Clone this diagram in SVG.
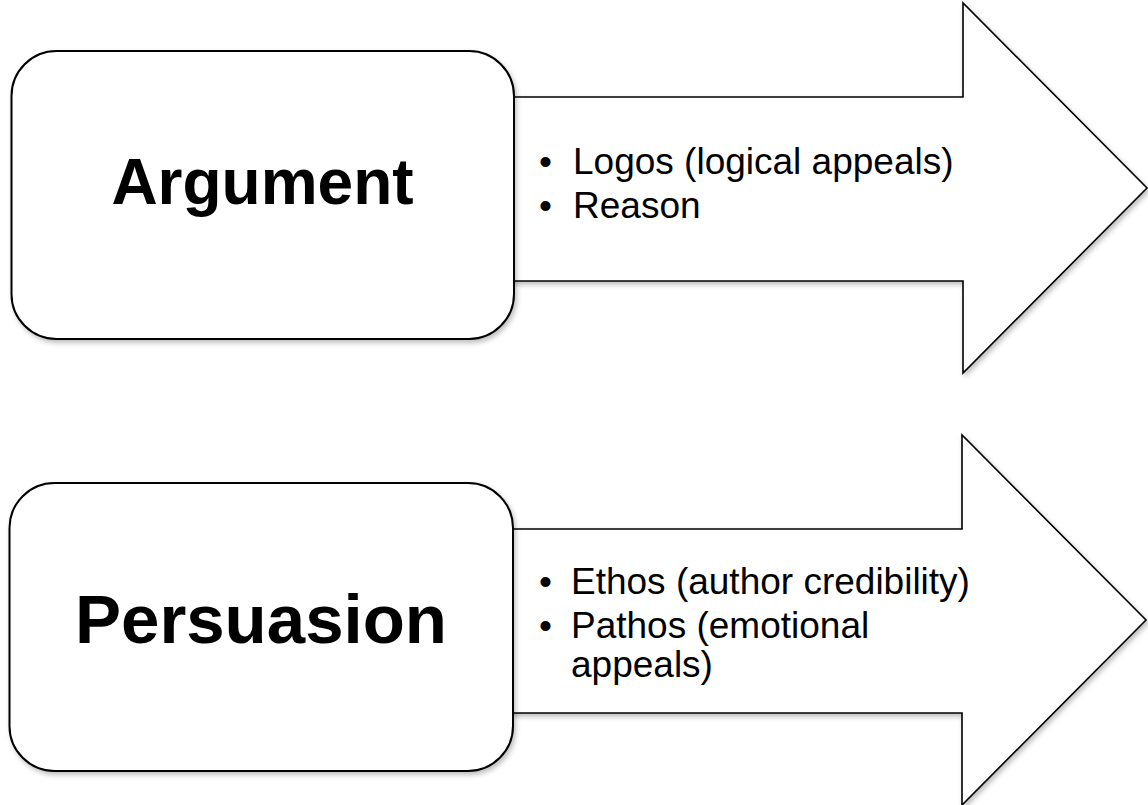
<svg xmlns="http://www.w3.org/2000/svg" width="1148" height="805" viewBox="0 0 1148 805">
<style>
  .shape { fill: #ffffff; stroke: #000000; stroke-width: 1.6; filter: url(#shadow); }
  .box { fill: #ffffff; stroke: #000000; stroke-width: 2; filter: url(#shadow); }
  .title { font-family: "Liberation Sans", Arial, sans-serif; font-weight: bold; fill: #000000; text-anchor: middle; }
  .bullet { font-family: "Liberation Sans", Arial, sans-serif; font-size: 37px; fill: #000000; }
</style>
<defs>
  <filter id="shadow" x="-10%" y="-10%" width="130%" height="130%">
    <feDropShadow dx="2" dy="3" stdDeviation="2.5" flood-color="#000000" flood-opacity="0.25"/>
  </filter>
</defs>
<rect width="1148" height="805" fill="#ffffff"/>
<g id="connectors"></g>
<g id="arrow1">
  <path class="shape" d="M 480,97 L 963,97 L 963,3 L 1147,188 L 963,373 L 963,281 L 480,281 Z"/>
  <text class="bullet" x="539" y="174">•</text>
  <text class="bullet" x="573" y="174">Logos (logical appeals)</text>
  <text class="bullet" x="539" y="218">•</text>
  <text class="bullet" x="573" y="218">Reason</text>
</g>
<g id="box1">
  <rect class="box" x="11.5" y="51" width="502.5" height="288" rx="45" ry="45"/>
  <text class="title" x="262.5" y="204" font-size="64">Argument</text>
</g>
<g id="arrow2">
  <path class="shape" d="M 480,529 L 962,529 L 962,435 L 1146,620 L 962,805 L 962,713 L 480,713 Z"/>
  <text class="bullet" x="539" y="594">•</text>
  <text class="bullet" x="571" y="594">Ethos (author credibility)</text>
  <text class="bullet" x="539" y="638">•</text>
  <text class="bullet" x="571" y="638">Pathos (emotional</text>
  <text class="bullet" x="571" y="677">appeals)</text>
</g>
<g id="box2">
  <rect class="box" x="9.5" y="483" width="503.5" height="288" rx="45" ry="45"/>
  <text class="title" x="261" y="643" font-size="69">Persuasion</text>
</g>
</svg>
